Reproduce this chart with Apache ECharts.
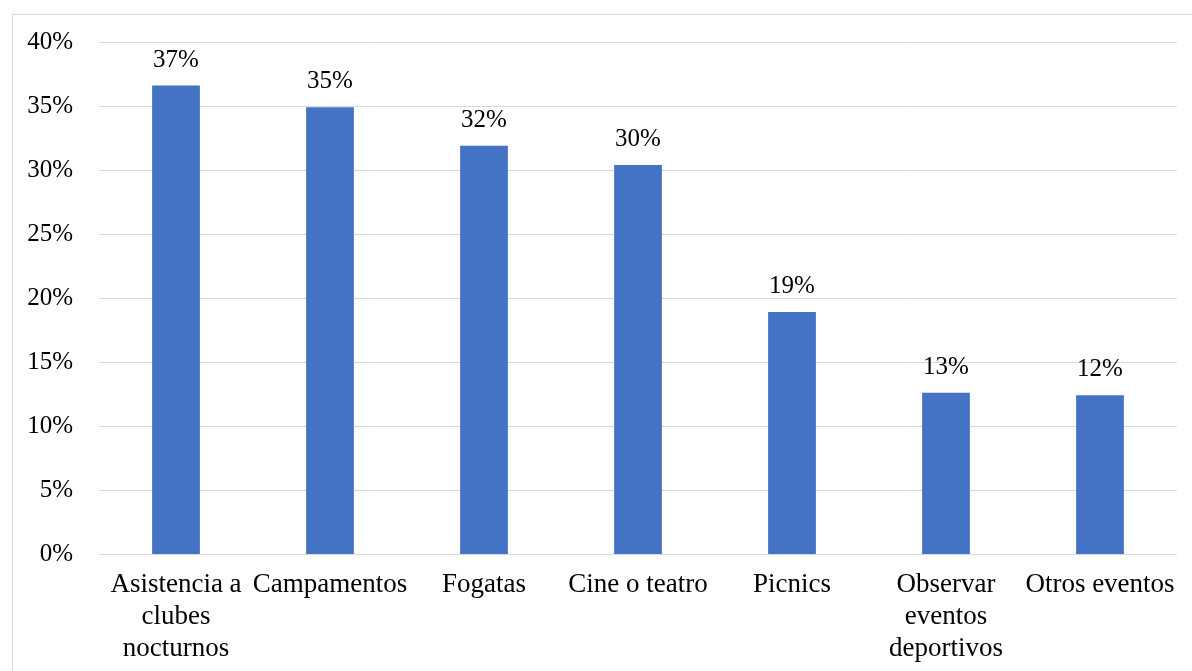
<!DOCTYPE html>
<html>
<head>
<meta charset="utf-8">
<script src="https://cdn.jsdelivr.net/npm/echarts@6/dist/echarts.min.js"></script>
<style>
  html, body { margin: 0; padding: 0; background: #ffffff; }
  #chart { width: 1192px; height: 671px; }
</style>
</head>
<body>
<div id="chart"></div>
<script>
// Activity categories (line breaks as they wrap under each bar)
const categories = [
  'Asistencia a\nclubes\nnocturnos',
  'Campamentos',
  'Fogatas',
  'Cine o teatro',
  'Picnics',
  'Observar\neventos\ndeportivos',
  'Otros eventos'
];

// Share of respondents, in percent
const shares = [36.6, 34.9, 31.9, 30.4, 18.9, 12.6, 12.4];

// Value-axis range and step, in percent
const yMin = 0;
const yMax = 40;
const yStep = 5;

const FONT = '"Liberation Serif", "Times New Roman", serif';
const TEXT = '#000000';

const chart = echarts.init(document.getElementById('chart'), null, { renderer: 'canvas' });

chart.setOption({
  animation: false,
  backgroundColor: '#ffffff',
  graphic: [{
    type: 'rect',
    left: 10,
    top: 12,
    shape: { width: 1180, height: 670 },
    style: { fill: 'none', stroke: '#d9d9d9', lineWidth: 1 },
    silent: true,
    z: -1
  }],
  grid: { left: 99, right: 15, top: 42, bottom: 117, containLabel: false },
  xAxis: {
    type: 'category',
    data: categories,
    axisLine: { show: true, lineStyle: { color: '#d9d9d9', width: 1 } },
    axisTick: { show: false },
    axisLabel: {
      interval: 0,
      margin: 15,
      color: TEXT,
      fontFamily: FONT,
      fontSize: 27,
      lineHeight: 32,
      align: 'center'
    }
  },
  yAxis: {
    type: 'value',
    min: yMin,
    max: yMax,
    interval: yStep,
    axisLine: { show: false },
    axisTick: { show: false },
    splitLine: { show: true, lineStyle: { color: '#d9d9d9', width: 1 } },
    axisLabel: {
      margin: 26,
      color: TEXT,
      fontFamily: FONT,
      fontSize: 25,
      formatter: v => v + '%'
    }
  },
  series: [{
    type: 'bar',
    data: shares,
    barWidth: '31%',
    itemStyle: { color: '#4472c4' },
    label: {
      show: true,
      position: 'top',
      distance: 13,
      color: TEXT,
      fontFamily: FONT,
      fontSize: 25,
      formatter: p => Math.round(p.value) + '%'
    }
  }]
});
</script>
</body>
</html>
